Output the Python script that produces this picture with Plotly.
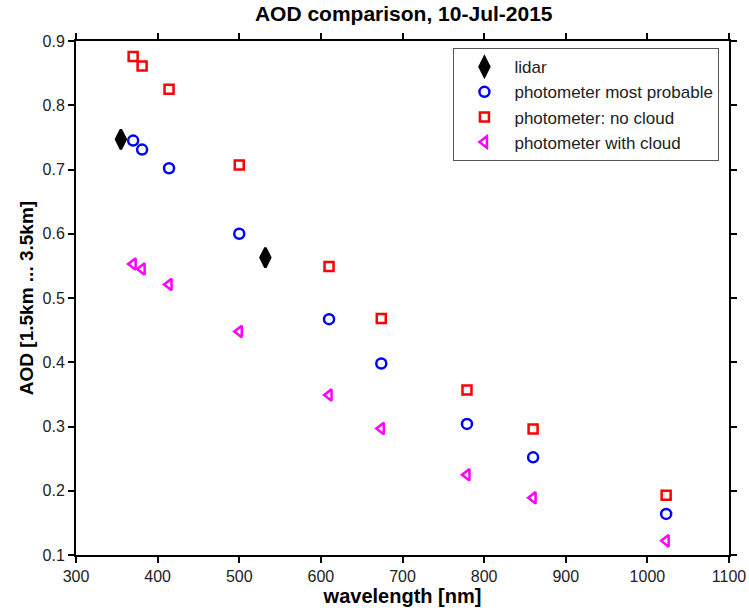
import plotly.graph_objects as go

# Data
lidar_wl = [355, 532]
lidar_aod = [0.747, 0.563]

phot_wl = [370, 381, 414, 500, 610, 674, 779, 860, 1023]
phot_most_probable = [0.745, 0.731, 0.702, 0.600, 0.467, 0.398, 0.304, 0.252, 0.164]
phot_no_cloud = [0.876, 0.861, 0.825, 0.707, 0.549, 0.468, 0.357, 0.296, 0.193]
phot_with_cloud = [0.553, 0.545, 0.521, 0.448, 0.349, 0.297, 0.225, 0.189, 0.122]

x_ticks = [300, 400, 500, 600, 700, 800, 900, 1000, 1100]
y_ticks = [0.1, 0.2, 0.3, 0.4, 0.5, 0.6, 0.7, 0.8, 0.9]

FONT = "Liberation Sans, Arial, Helvetica, sans-serif"

fig = go.Figure()
fig.add_trace(go.Scatter(
    x=lidar_wl, y=lidar_aod, mode="markers", name="lidar",
    marker=dict(symbol="diamond-tall", size=14, color="black",
                line=dict(color="black", width=2.5))))
fig.add_trace(go.Scatter(
    x=phot_wl, y=phot_most_probable, mode="markers", name="photometer most probable",
    marker=dict(symbol="circle-open", size=10, color="#0000FF",
                line=dict(color="#0000FF", width=2.5))))
fig.add_trace(go.Scatter(
    x=phot_wl, y=phot_no_cloud, mode="markers", name="photometer: no cloud",
    marker=dict(symbol="square-open", size=9, color="#FF0000",
                line=dict(color="#FF0000", width=2.5))))
fig.add_trace(go.Scatter(
    x=phot_wl, y=phot_with_cloud, mode="markers", name="photometer with cloud",
    marker=dict(symbol="triangle-left-open", size=10, color="#FF00FF",
                line=dict(color="#FF00FF", width=2.5))))

axis_common = dict(
    showline=True, linecolor="black", linewidth=2, mirror="ticks",
    ticks="outside", ticklen=6, tickwidth=2, tickcolor="black",
    showgrid=False, zeroline=False, automargin=False,
    tickfont=dict(family=FONT, size=16, color="#222222"),
)

fig.update_layout(
    width=749, height=610,
    margin=dict(l=76, r=20, t=41, b=55),
    paper_bgcolor="white", plot_bgcolor="white",
    title=dict(text="<b>AOD comparison, 10-Jul-2015</b>",
               font=dict(family=FONT, size=21, color="black"),
               x=0.539, xanchor="center", y=0.977, yanchor="middle"),
    xaxis=dict(range=[300, 1100], tickvals=x_ticks,
               ticktext=[str(v) for v in x_ticks],
               title=dict(text="<b>wavelength [nm]</b>",
                          font=dict(family=FONT, size=20, color="black"),
                          standoff=5),
               **axis_common),
    yaxis=dict(range=[0.1, 0.9], tickvals=y_ticks,
               ticktext=[f"{v:.1f}" for v in y_ticks],
               title=dict(text="<b>AOD [1.5km ... 3.5km]</b>",
                          font=dict(family=FONT, size=19, color="black"),
                          standoff=4),
               **axis_common),
    legend=dict(x=0.578, y=0.986, xanchor="left", yanchor="top",
                bordercolor="#555555", borderwidth=1, bgcolor="white",
                font=dict(family=FONT, size=17, color="#222222"),
                itemwidth=50),
    showlegend=True,
)

fig.write_html("out.html")
